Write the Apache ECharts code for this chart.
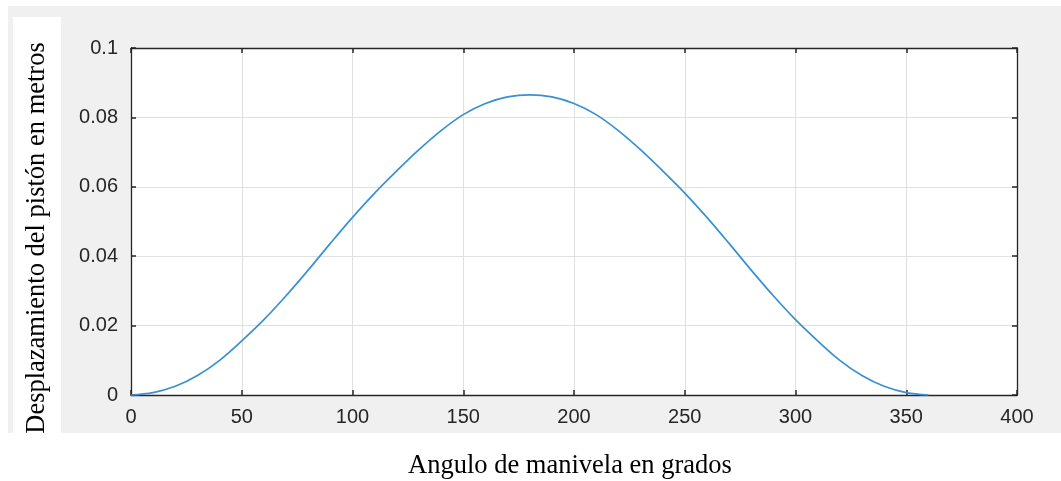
<!DOCTYPE html>
<html>
<head>
<meta charset="utf-8">
<script src="https://cdn.jsdelivr.net/npm/echarts@6/dist/echarts.min.js"></script>
<style>
  html, body { margin: 0; padding: 0; background: #ffffff; }
  #chart { width: 1061px; height: 481px; }
</style>
</head>
<body>
<div id="chart"></div>
<script>
// Crank angle (degrees) and piston displacement (metres)
const crankAngles = [0, 10, 20, 30, 40, 50, 60, 70, 80, 90, 100, 110, 120, 130, 140, 150, 160, 170, 180,
  190, 200, 210, 220, 230, 240, 250, 260, 270, 280, 290, 300, 310, 320, 330, 340, 350, 360];
const displacement = [0, 0.0007, 0.0025, 0.0056, 0.0100, 0.0156, 0.0217, 0.0286, 0.0360, 0.0437,
  0.0512, 0.0582, 0.0646, 0.0707, 0.0762, 0.0808, 0.0840, 0.0859, 0.0865,
  0.0859, 0.0840, 0.0808, 0.0762, 0.0707, 0.0646, 0.0582, 0.0512, 0.0437, 0.0360,
  0.0286, 0.0217, 0.0156, 0.0100, 0.0056, 0.0025, 0.0007, 0];
const xTicks = [0, 50, 100, 150, 200, 250, 300, 350, 400];
const yTicks = [0, 0.02, 0.04, 0.06, 0.08, 0.1];

const xTitle = 'Angulo de manivela en grados';
const yTitle = 'Desplazamiento del pistón en metros';

const axisColor = '#262626';
const tickFont = { fontFamily: 'Liberation Sans, Arial, sans-serif', fontSize: 20, color: axisColor };
const titleFont = '26.5px "Liberation Serif", "Times New Roman", serif';

const chart = echarts.init(document.getElementById('chart'), null, { renderer: 'canvas' });

// Axes on the top and right only close the box and carry inward ticks
const boxAxis = (extra) => Object.assign({
  type: 'value',
  axisLine: { show: true, onZero: false, lineStyle: { color: axisColor, width: 1.3 } },
  axisTick: { show: true, inside: true, length: 5, lineStyle: { color: axisColor, width: 1.5 } },
  splitLine: { show: false },
  axisLabel: { show: false }
}, extra);

chart.setOption({
  animation: false,
  backgroundColor: '#ffffff',
  graphic: [
    { type: 'rect', z: -10, silent: true, shape: { x: 8, y: 6, width: 1053, height: 427 }, style: { fill: '#f0f0f0' } },
    { type: 'rect', z: -9, silent: true, shape: { x: 13, y: 17, width: 48, height: 416 }, style: { fill: '#ffffff' } },
    { type: 'rect', z: -8, silent: true, shape: { x: 131, y: 48, width: 886, height: 347 }, style: { fill: '#ffffff' } },
    {
      type: 'text', x: 570, y: 466, z: 10,
      style: { text: xTitle, font: titleFont, fill: '#000000', align: 'center', verticalAlign: 'middle' }
    },
    {
      type: 'text', x: 37, y: 238, rotation: Math.PI / 2, z: 10,
      style: { text: yTitle, font: titleFont, fill: '#000000', align: 'center', verticalAlign: 'middle' }
    }
  ],
  grid: { left: 131, right: 44, top: 48, bottom: 86, containLabel: false },
  xAxis: [
    {
      type: 'value', position: 'bottom',
      min: xTicks[0], max: xTicks[xTicks.length - 1], interval: xTicks[1] - xTicks[0],
      axisLine: { show: true, onZero: false, lineStyle: { color: axisColor, width: 1.3 } },
      axisTick: { show: true, inside: true, length: 5, lineStyle: { color: axisColor, width: 1.5 } },
      axisLabel: Object.assign({ margin: 12 }, tickFont),
      splitLine: { show: true, lineStyle: { color: '#e0e0e0', width: 1 } }
    },
    boxAxis({ position: 'top', min: xTicks[0], max: xTicks[xTicks.length - 1], interval: xTicks[1] - xTicks[0] })
  ],
  yAxis: [
    {
      type: 'value', position: 'left',
      min: yTicks[0], max: yTicks[yTicks.length - 1], interval: yTicks[1] - yTicks[0],
      axisLine: { show: true, onZero: false, lineStyle: { color: axisColor, width: 1.3 } },
      axisTick: { show: true, inside: true, length: 5, lineStyle: { color: axisColor, width: 1.5 } },
      axisLabel: Object.assign({ margin: 13 }, tickFont),
      splitLine: { show: true, lineStyle: { color: '#e0e0e0', width: 1 } }
    },
    boxAxis({ position: 'right', min: yTicks[0], max: yTicks[yTicks.length - 1], interval: yTicks[1] - yTicks[0] })
  ],
  series: [
    {
      type: 'line',
      xAxisIndex: 0, yAxisIndex: 0,
      data: crankAngles.map((a, i) => [a, displacement[i]]),
      showSymbol: false,
      smooth: 0.35,
      lineStyle: { color: '#3990d3', width: 1.7 },
      clip: false
    }
  ]
});
</script>
</body>
</html>
